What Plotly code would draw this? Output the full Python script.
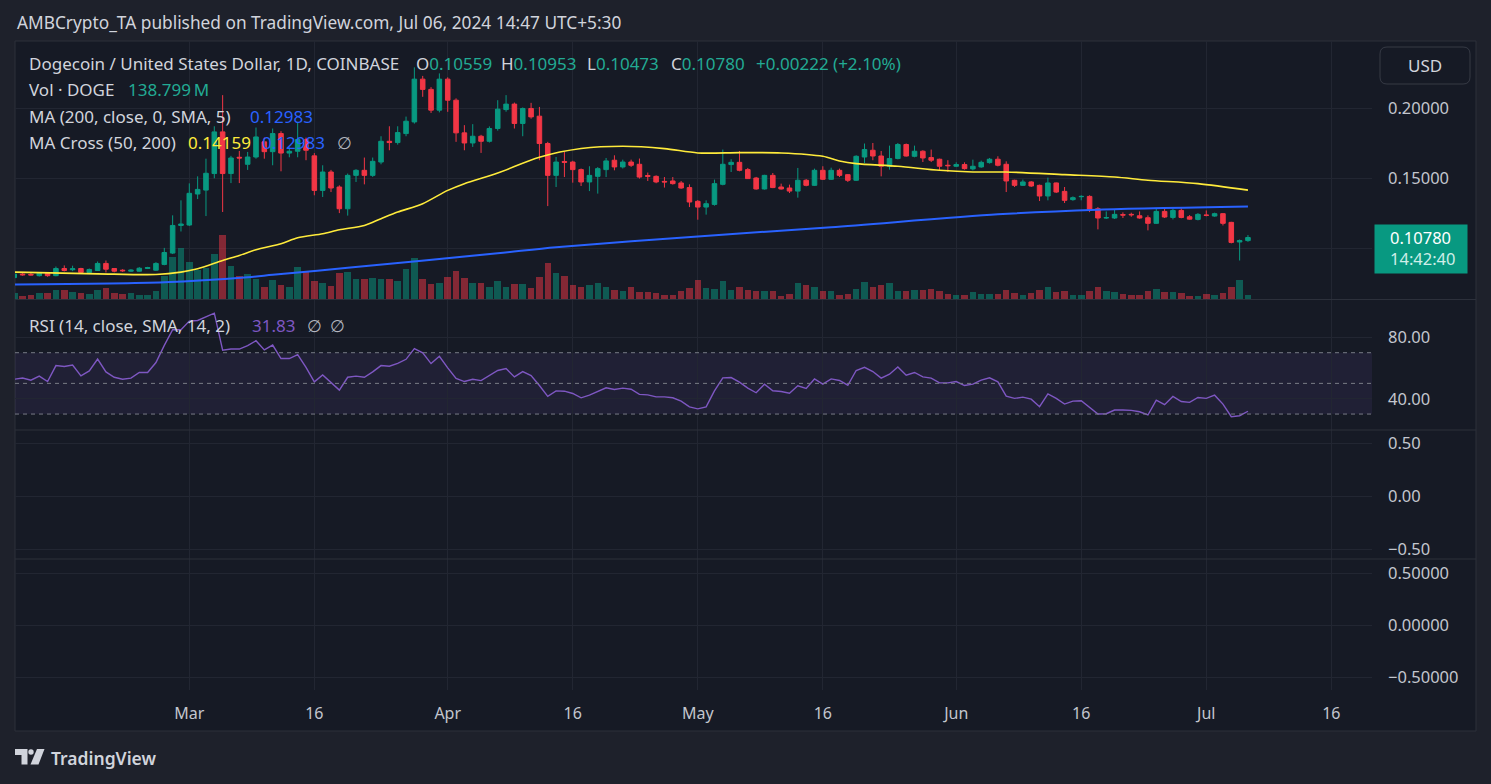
import pandas as pd
import plotly.graph_objects as go

W, H = 1491, 784


def px(x):
    return x / W


def py(y):
    return 1 - y / H


# ---------------- data ----------------
dates = pd.date_range("2024-02-09", "2024-07-06", freq="D")

open_ = [0.0792, 0.0817, 0.0815, 0.0806, 0.0823, 0.0806, 0.0857, 0.0848, 0.0857, 0.0829,
         0.0843, 0.0893, 0.0857, 0.0845, 0.0838, 0.0838, 0.0857, 0.0845, 0.0886, 0.0967,
         0.1164,
         0.1167, 0.1388, 0.1416, 0.1534, 0.1831, 0.1534, 0.1650, 0.1600, 0.1652, 0.1760,
         0.1690, 0.1819, 0.1680, 0.1693, 0.1776, 0.1660, 0.1414, 0.1545, 0.1438, 0.1283,
         0.1521, 0.1557, 0.1521, 0.1616, 0.1764, 0.1755, 0.1819, 0.1902, 0.2207, 0.2134,
         0.1986,
         0.2207, 0.2057, 0.1824, 0.1752, 0.1800, 0.1764, 0.1855, 0.1990, 0.2029, 0.1891,
         0.1998, 0.1943, 0.1748, 0.1521, 0.1620, 0.1616, 0.1562, 0.1474, 0.1514, 0.1562,
         0.1629, 0.1581, 0.1616, 0.1600, 0.1520, 0.1514, 0.1478, 0.1481, 0.1467, 0.1434,
         0.1336, 0.1295, 0.1314, 0.1457, 0.1598, 0.1614, 0.1562, 0.1502, 0.1424, 0.1521,
         0.1438, 0.1431, 0.1409, 0.1486, 0.1450, 0.1557, 0.1493, 0.1557, 0.1526, 0.1486,
         0.1652, 0.1700, 0.1659, 0.1586, 0.1641, 0.1741, 0.1657, 0.1693, 0.1648, 0.1636,
         0.1593,
         0.1586, 0.1598, 0.1567, 0.1581, 0.1612, 0.1636, 0.1600, 0.1486, 0.1450, 0.1474,
         0.1450, 0.1374, 0.1467, 0.1407, 0.1348, 0.1369, 0.1371, 0.1283, 0.1217, 0.1217,
         0.1241, 0.1243, 0.1233, 0.1219, 0.1179, 0.1264, 0.1221, 0.1271, 0.1226, 0.1207,
         0.1238, 0.1231, 0.1248, 0.1186, 0.1046, 0.10559]
high = [0.0822, 0.0824, 0.0826, 0.0828, 0.0828, 0.0871, 0.0879, 0.0877, 0.0862, 0.0857,
        0.0907, 0.0914, 0.0860, 0.0852, 0.0852, 0.0867, 0.0869, 0.0902, 0.1004, 0.1236,
        0.1343,
        0.1464, 0.1514, 0.1640, 0.1871, 0.2093, 0.1660, 0.1695, 0.1688, 0.1862, 0.1790,
        0.1855, 0.1836, 0.1720, 0.1902, 0.1790, 0.1680, 0.1593, 0.1560, 0.1450, 0.1534,
        0.1565, 0.1648, 0.1648, 0.1800, 0.1871, 0.1871, 0.1940, 0.2291, 0.2230, 0.2150,
        0.2248,
        0.2220, 0.2070, 0.1879, 0.1886, 0.1810, 0.1870, 0.2057, 0.2093, 0.2040, 0.2005,
        0.2038, 0.2009, 0.1760, 0.1652, 0.1688, 0.1625, 0.1570, 0.1586, 0.1580, 0.1645,
        0.1664, 0.1633, 0.1633, 0.1641, 0.1541, 0.1521, 0.1509, 0.1509, 0.1481, 0.1457,
        0.1345, 0.1343, 0.1491, 0.1705, 0.1636, 0.1695, 0.1574, 0.1510, 0.1525, 0.1538,
        0.1462, 0.1455, 0.1574, 0.1495, 0.1569, 0.1586, 0.1576, 0.1569, 0.1530, 0.1664,
        0.1748, 0.1752, 0.1695, 0.1733, 0.1752, 0.1748, 0.1733, 0.1700, 0.1705, 0.1640,
        0.1629,
        0.1614, 0.1614, 0.1633, 0.1626, 0.1645, 0.1657, 0.1621, 0.1490, 0.1491, 0.1480,
        0.1455, 0.1505, 0.1470, 0.1438, 0.1371, 0.1379, 0.1379, 0.1295, 0.1264, 0.1279,
        0.1257, 0.1255, 0.1264, 0.1236, 0.1283, 0.1281, 0.1283, 0.1286, 0.1238, 0.1252,
        0.1271, 0.1255, 0.1252, 0.1190, 0.1064, 0.10953]
low = [0.0788, 0.0806, 0.0808, 0.0800, 0.0798, 0.0802, 0.0836, 0.0838, 0.0818, 0.0826,
       0.0840, 0.0829, 0.0830, 0.0833, 0.0834, 0.0835, 0.0853, 0.0840, 0.0880, 0.0960,
       0.1121,
       0.1160, 0.1352, 0.1231, 0.1500, 0.1260, 0.1466, 0.1466, 0.1560, 0.1640, 0.1640,
       0.1593, 0.1550, 0.1650, 0.1650, 0.1629, 0.1379, 0.1367, 0.1402, 0.1252, 0.1234,
       0.1474, 0.1457, 0.1510, 0.1600, 0.1700, 0.1740, 0.1800, 0.1890, 0.2081, 0.1966,
       0.1970,
       0.1974, 0.1760, 0.1700, 0.1724, 0.1681, 0.1755, 0.1840, 0.1975, 0.1855, 0.1800,
       0.1925, 0.1629, 0.1302, 0.1438, 0.1509, 0.1469, 0.1445, 0.1409, 0.1391, 0.1509,
       0.1557, 0.1570, 0.1581, 0.1498, 0.1481, 0.1465, 0.1434, 0.1455, 0.1425, 0.1295,
       0.1205, 0.1241, 0.1305, 0.1450, 0.1545, 0.1550, 0.1495, 0.1419, 0.1420, 0.1430,
       0.1420, 0.1395, 0.1362, 0.1443, 0.1445, 0.1488, 0.1488, 0.1509, 0.1474, 0.1481,
       0.1609, 0.1629, 0.1514, 0.1562, 0.1635, 0.1655, 0.1650, 0.1616, 0.1616, 0.1557,
       0.1545,
       0.1580, 0.1562, 0.1557, 0.1575, 0.1605, 0.1585, 0.1402, 0.1438, 0.1445, 0.1438,
       0.1338, 0.1343, 0.1395, 0.1324, 0.1340, 0.1343, 0.1259, 0.1136, 0.1210, 0.1210,
       0.1217, 0.1226, 0.1212, 0.1129, 0.1175, 0.1217, 0.1207, 0.1215, 0.1205, 0.1200,
       0.1229, 0.1226, 0.1164, 0.1036, 0.0914, 0.10473]
close = [0.0817, 0.0812, 0.0811, 0.0823, 0.0806, 0.0857, 0.0843, 0.0855, 0.0829, 0.0850,
         0.0893, 0.0852, 0.0838, 0.0841, 0.0845, 0.0859, 0.0864, 0.0893, 0.0971, 0.1164,
         0.1174,
         0.1393, 0.1421, 0.1536, 0.1831, 0.1534, 0.1645, 0.1645, 0.1652, 0.1795, 0.1690,
         0.1819, 0.1680, 0.1693, 0.1776, 0.1700, 0.1414, 0.1545, 0.1431, 0.1283, 0.1521,
         0.1557, 0.1521, 0.1621, 0.1764, 0.1755, 0.1826, 0.1907, 0.2207, 0.2134, 0.1986,
         0.2207,
         0.2057, 0.1824, 0.1752, 0.1800, 0.1764, 0.1855, 0.1993, 0.2029, 0.1891, 0.1998,
         0.1938, 0.1748, 0.1521, 0.1616, 0.1614, 0.1562, 0.1474, 0.1521, 0.1569, 0.1624,
         0.1581, 0.1616, 0.1593, 0.1509, 0.1514, 0.1474, 0.1474, 0.1462, 0.1431, 0.1331,
         0.1295, 0.1319, 0.1462, 0.1600, 0.1614, 0.1557, 0.1498, 0.1424, 0.1521, 0.1434,
         0.1424, 0.1409, 0.1486, 0.1450, 0.1557, 0.1493, 0.1557, 0.1521, 0.1486, 0.1657,
         0.1705, 0.1659, 0.1586, 0.1641, 0.1741, 0.1659, 0.1693, 0.1645, 0.1629, 0.1586,
         0.1590,
         0.1598, 0.1569, 0.1586, 0.1614, 0.1636, 0.1593, 0.1481, 0.1450, 0.1474, 0.1445,
         0.1374, 0.1467, 0.1402, 0.1343, 0.1362, 0.1371, 0.1276, 0.1217, 0.1220, 0.1243,
         0.1238, 0.1240, 0.1217, 0.1179, 0.1264, 0.1224, 0.1271, 0.1221, 0.1209, 0.1243,
         0.1236, 0.1248, 0.1179, 0.1043, 0.10558, 0.10780]

# volume in millions of DOGE
volume_m = [202, 118, 138, 202, 202, 298, 298, 234, 202, 170, 298, 362, 202, 170, 202, 138, 138, 266, 746, 1366,
            1642,
            1194, 938, 1014, 1450, 2058, 1066, 746, 810, 650, 394, 618, 458, 394, 1034, 874, 586, 522, 426, 842, 874,
            650, 650, 682, 650, 650, 586, 970, 1322, 650, 490, 522,
            714, 906, 682, 522, 522, 394, 586, 406, 490, 490, 352, 714, 1174, 854, 746, 458, 406, 458, 522, 384,
            298, 266, 384, 234, 234, 202, 138, 138, 266, 362,
            618, 362, 330, 586, 298, 384, 298, 266, 266, 266, 106, 170, 522, 458, 384, 266, 266, 138, 170, 330,
            554, 394, 458, 522, 266, 266, 298, 298, 330, 266, 170,
            138, 138, 234, 170, 170, 160, 288, 192, 128, 192, 288, 384, 224, 256, 128, 128, 256, 384, 256, 224,
            160, 128, 128, 256, 320, 224, 224, 192, 96, 96,
            160, 128, 192, 384, 608, 138.799]

rsi = [52.7, 53.5, 52.1, 54.7, 51.2, 61.6, 61.0, 62.0, 54.9, 58.1, 65.9, 57.5, 54.0, 52.7, 53.4, 57.1, 57.1,
       63.6, 74.8, 85.0, 85.0, 90.6, 91.0, 93.2, 95.8,
       71.6, 72.4, 72.4, 74.6, 77.8, 71.8, 75.0, 66.2, 66.2, 68.8, 60.5, 51.0, 55.5, 50.6, 45.6, 54.0,
       54.7, 54.0, 57.5, 61.6, 61.2, 63.1, 65.7, 72.7, 69.9, 62.9, 67.7,
       60.1, 53.2, 51.2, 52.7, 51.8, 54.9, 58.4, 59.7, 54.2, 57.7, 55.1, 48.6, 41.5, 45.1, 44.9, 43.4,
       40.6, 42.3, 44.5, 47.1, 46.0, 46.9, 46.2, 42.8, 42.5, 41.2, 41.2, 40.6, 38.4, 34.7,
       33.4, 34.7, 45.1, 53.6, 53.8, 50.8, 46.9,
       43.9, 49.5, 45.2, 44.7, 43.6, 48.4, 46.7, 52.9, 49.5, 52.9, 51.9, 48.8, 58.4, 60.5, 57.7, 53.4,
       56.0, 60.7, 55.3, 57.1, 54.2, 53.4, 50.3, 50.3,
       51.2, 48.6, 49.5, 52.1, 53.6, 51.0, 41.7, 40.2, 41.0, 39.7, 34.8, 43.2, 40.2, 36.5, 38.4, 38.7,
       34.3, 30.0, 30.2, 32.6, 32.6, 32.4, 31.5, 29.4, 39.1, 36.1, 41.5, 38.2, 37.6, 40.8, 40.2,
       42.3, 36.5, 28.3, 28.9, 31.83]

ma50_dates = ["2024-02-09", "2024-02-19", "2024-02-26", "2024-02-29", "2024-03-02", "2024-03-05",
              "2024-03-07", "2024-03-09", "2024-03-12", "2024-03-14", "2024-03-17", "2024-03-19",
              "2024-03-22", "2024-03-24", "2024-03-26", "2024-03-29", "2024-04-01", "2024-04-03",
              "2024-04-07", "2024-04-12", "2024-04-17", "2024-04-22", "2024-04-27", "2024-05-01",
              "2024-05-06", "2024-05-11", "2024-05-16", "2024-05-18", "2024-05-20", "2024-05-25",
              "2024-05-30", "2024-06-03", "2024-06-07", "2024-06-14", "2024-06-20", "2024-06-24",
              "2024-06-30", "2024-07-06"]
ma50 = [0.0831, 0.0819, 0.0814, 0.0831, 0.0855, 0.0914,
        0.0950, 0.0991, 0.1034, 0.1076, 0.1105, 0.1133,
        0.1164, 0.1212, 0.1259, 0.1319, 0.1414, 0.1462,
        0.1538, 0.1650, 0.1712, 0.1729, 0.1712, 0.1681,
        0.1683, 0.1681, 0.1657, 0.1624, 0.1605, 0.1586,
        0.1557, 0.1545, 0.1545, 0.1526, 0.1509, 0.1486,
        0.1462, 0.14159]

ma200_dates = ["2024-02-09", "2024-02-27", "2024-03-08", "2024-03-11", "2024-03-20", "2024-04-07",
               "2024-04-14", "2024-05-01", "2024-05-17", "2024-06-06", "2024-06-18", "2024-07-06"]
ma200 = [0.0743, 0.0759, 0.0795, 0.0812, 0.0862, 0.0966,
         0.1009, 0.1086, 0.1152, 0.1243, 0.1276, 0.12983]

tick_dates = ["2024-03-01", "2024-03-16", "2024-04-01", "2024-04-16", "2024-05-01",
              "2024-05-16", "2024-06-01", "2024-06-16", "2024-07-01", "2024-07-16"]
tick_text = ["Mar", "16", "Apr", "16", "May", "16", "Jun", "16", "Jul", "16"]

price_ticks = [0.10, 0.15, 0.20]
price_tick_text = ["", "0.15000", "0.20000"]   # 0.10 label is hidden behind the last-price tag

# ---------------- style ----------------
FONT = "Noto Sans"
OUTER = "#1e212b"
CHART = "#161a25"
GRID = "#222632"
SEP = "#2c303b"
TXT = "#d1d4dc"
AXT = "#c3c6ce"
UP = "#089981"
DOWN = "#f23645"
UPTXT = "#22ab94"
BLUE = "#2962ff"
YELLOW = "#ffeb3b"
PURPLE = "#7e57c2"
FS = 17

up_flags = [c >= o for o, c in zip(open_, close)]
vol_colors = ["rgba(8,153,129,0.5)" if u else "rgba(242,54,69,0.5)" for u in up_flags]

fig = go.Figure()

fig.add_trace(go.Bar(x=dates, y=volume_m, marker=dict(color=vol_colors, line=dict(width=0)),
                     width=0.78 * 86400000, xaxis="x", yaxis="y", hoverinfo="skip"))

fig.add_trace(go.Candlestick(
    x=dates, open=open_, high=high, low=low, close=close, xaxis="x", yaxis="y2",
    increasing=dict(line=dict(color=UP, width=1), fillcolor=UP),
    decreasing=dict(line=dict(color=DOWN, width=1), fillcolor=DOWN),
    whiskerwidth=0, hoverinfo="skip"))

fig.add_trace(go.Scatter(x=ma50_dates, y=ma50, mode="lines", xaxis="x", yaxis="y2",
                         line=dict(color=YELLOW, width=1.6, shape="spline", smoothing=0.8),
                         hoverinfo="skip"))
fig.add_trace(go.Scatter(x=ma200_dates, y=ma200, mode="lines", xaxis="x", yaxis="y2",
                         line=dict(color=BLUE, width=2, shape="spline", smoothing=0.8),
                         hoverinfo="skip"))

fig.add_trace(go.Scatter(x=dates, y=rsi, mode="lines", xaxis="x", yaxis="y3",
                         line=dict(color=PURPLE, width=1.4), hoverinfo="skip"))

# empty panes
fig.add_trace(go.Scatter(x=[dates[0]], y=[None], mode="lines", xaxis="x", yaxis="y4", hoverinfo="skip"))
fig.add_trace(go.Scatter(x=[dates[0]], y=[None], mode="lines", xaxis="x", yaxis="y5", hoverinfo="skip"))

x_left = pd.Timestamp("2024-03-01") + pd.Timedelta(days=-20.91)
x_right = pd.Timestamp("2024-03-01") + pd.Timedelta(days=141.88)

yax_common = dict(side="right", anchor="x", showgrid=True, gridcolor=GRID, gridwidth=1,
                  zeroline=False, showline=False, ticks="", ticklabelstandoff=15,
                  tickfont=dict(family=FONT, size=16.5, color=AXT), fixedrange=True)

fig.update_layout(
    width=W, height=H, margin=dict(l=0, r=0, t=0, b=0),
    paper_bgcolor=OUTER, plot_bgcolor="rgba(0,0,0,0)",
    showlegend=False, boxgap=0.22, bargap=0,
    font=dict(family=FONT, color=TXT),
    xaxis=dict(type="date", domain=[px(15), px(1372)], range=[x_left, x_right], anchor="y5",
               tickvals=tick_dates, ticktext=tick_text, showgrid=True, gridcolor=GRID,
               zeroline=False, showline=False, ticks="", ticklabelstandoff=12,
               tickfont=dict(family=FONT, size=16, color=AXT),
               rangeslider=dict(visible=False), fixedrange=True),
    yaxis=dict(domain=[py(299.5), py(41)], range=[0, 8256], visible=False, anchor="x",
               fixedrange=True),
    yaxis2=dict(overlaying="y", range=[0.0636, 0.2479], tickvals=price_ticks,
                ticktext=price_tick_text, **yax_common),
    yaxis3=dict(domain=[py(430), py(299.5)], range=[19.6, 104.7], tickvals=[40, 80],
                tickformat=".2f", **yax_common),
    yaxis4=dict(domain=[py(559), py(430)], range=[-0.594, 0.623], tickvals=[-0.5, 0, 0.5],
                tickformat=".2f", **yax_common),
    yaxis5=dict(domain=[py(690), py(559)], range=[-0.625, 0.635], tickvals=[-0.5, 0, 0.5],
                tickformat=".5f", **yax_common),
)

shapes = []
# chart frame
shapes.append(dict(type="rect", xref="paper", yref="paper", x0=px(15), x1=px(1476), y0=py(731), y1=py(41),
                   fillcolor=CHART, line=dict(color=SEP, width=1), layer="below"))
# RSI band and levels
shapes.append(dict(type="rect", xref="x domain", yref="y3", x0=0, x1=1, y0=30, y1=70,
                   fillcolor="rgba(126,87,194,0.1)", line=dict(width=0), layer="below"))
for lvl in (70, 50, 30):
    shapes.append(dict(type="line", xref="x domain", yref="y3", x0=0, x1=1, y0=lvl, y1=lvl,
                       line=dict(color="#787b86", width=1, dash="4px,4px"), layer="above"))
# pane separators
for ysep in (299.5, 430, 559):
    shapes.append(dict(type="line", xref="paper", yref="paper", x0=px(15), x1=px(1476),
                       y0=py(ysep), y1=py(ysep), line=dict(color=SEP, width=1), layer="above"))


def rounded(x0, y0, x1, y1, r):
    return (f"M {px(x0 + r)},{py(y0)} L {px(x1 - r)},{py(y0)} Q {px(x1)},{py(y0)} {px(x1)},{py(y0 + r)} "
            f"L {px(x1)},{py(y1 - r)} Q {px(x1)},{py(y1)} {px(x1 - r)},{py(y1)} L {px(x0 + r)},{py(y1)} "
            f"Q {px(x0)},{py(y1)} {px(x0)},{py(y1 - r)} L {px(x0)},{py(y0 + r)} Q {px(x0)},{py(y0)} {px(x0 + r)},{py(y0)} Z")


# USD button
shapes.append(dict(type="path", xref="paper", yref="paper", path=rounded(1380, 47, 1470, 84, 7),
                   fillcolor=CHART, line=dict(color="#363a45", width=1), layer="above"))


# TradingView logo
def poly(pts):
    return "M " + " L ".join(f"{px(a)},{py(b)}" for a, b in pts) + " Z"


shapes.append(dict(type="path", xref="paper", yref="paper",
                   path=poly([(15, 749), (27.5, 749), (27.5, 764.5), (21.5, 764.5), (21.5, 755), (15, 755)]),
                   fillcolor=TXT, line=dict(width=0)))
shapes.append(dict(type="circle", xref="paper", yref="paper", x0=px(28.3), x1=px(33.7), y0=py(754.7),
                   y1=py(749.3), fillcolor=TXT, line=dict(width=0)))
shapes.append(dict(type="path", xref="paper", yref="paper",
                   path=poly([(37, 749), (44.5, 749), (38.5, 764.5), (30.5, 764.5)]),
                   fillcolor=TXT, line=dict(width=0)))

ann = []


def text(x, y, s, color=TXT, size=FS, anchor="left", weight="normal"):
    ann.append(dict(x=px(x), y=py(y), xref="paper", yref="paper", text=s, showarrow=False,
                    xanchor=anchor, yanchor="middle",
                    font=dict(family=FONT, size=size, color=color, weight=weight)))


def span(s, c):
    return f"<span style='color:{c}'>{s}</span>"


text(15, 23, "AMBCrypto_TA published on TradingView.com, Jul 06, 2024 14:47 UTC+5:30", size=17.3)

text(27, 64, "Dogecoin / United States Dollar, 1D, COINBASE")
text(414, 64, "O" + span(f"{open_[-1]:.5f}", UPTXT))
text(499, 64, "H" + span(f"{high[-1]:.5f}", UPTXT))
text(585, 64, "L" + span(f"{low[-1]:.5f}", UPTXT))
text(669, 64, "C" + span(f"{close[-1]:.5f}", UPTXT))
chg = close[-1] - close[-2]
pct = chg / close[-2] * 100
text(754, 64, span(f"{chg:+.5f} ({pct:+.2f}%)", UPTXT))

text(27, 90, "Vol · DOGE")
text(126, 90, span(f"{volume_m[-1]:.3f}\u2009M", UPTXT))
text(27, 116, "MA (200, close, 0, SMA, 5)")
text(248, 116, span(f"{ma200[-1]:.5f}", BLUE))
text(27, 142, "MA Cross (50, 200)")
text(186, 142, span(f"{ma50[-1]:.5f}", YELLOW))
text(260, 142, span(f"{ma200[-1]:.5f}", BLUE))
text(335, 142, "∅", color="#b2b5be")

text(27, 325, "RSI (14, close, SMA, 14, 2)")
text(250, 325, span(f"{rsi[-1]:.2f}", PURPLE))
text(305, 325, "∅", color="#b2b5be")
text(328, 325, "∅", color="#b2b5be")

text(1425, 66, "USD", anchor="center")

# last price tag
ann.append(dict(x=px(1374), y=close[-1], xref="paper", yref="y2", text=" ", showarrow=False,
                xanchor="left", yanchor="top", yshift=14, width=92, height=48, bgcolor=UP,
                borderpad=0, font=dict(size=4)))
ann.append(dict(x=px(1388), y=close[-1], xref="paper", yref="y2", text=f"{close[-1]:.5f}",
                showarrow=False, xanchor="left", yanchor="middle",
                font=dict(family=FONT, size=16.5, color="#ffffff")))
ann.append(dict(x=px(1388), y=close[-1], xref="paper", yref="y2", text="14:42:40",
                showarrow=False, xanchor="left", yanchor="middle", yshift=-21,
                font=dict(family=FONT, size=16.5, color="#cfeee8")))

text(49, 758, "TradingView", size=17.5, weight=600)

fig.update_layout(shapes=shapes, annotations=ann)

fig.write_html("out.html", config={"displayModeBar": False},
               post_script="document.body.style.margin='0px';document.body.style.overflow='hidden';")
